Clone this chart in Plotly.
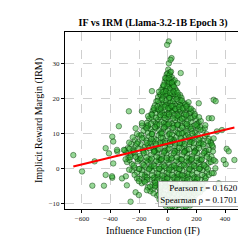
import plotly.graph_objects as go

# Influence Function (IF) and Implicit Reward Margin (IRM) values
if_vals = []
irm_vals = []

# dense blob, layer 1, row by row (top to bottom)
if_vals += [3, 17, -8, 10, 28]
irm_vals += [28.4, 27.6, 27.0, 26.6, 26.2]
if_vals += [-15, 5, 24, 40, -2, 15]
irm_vals += [25.8, 25.2, 25.6, 24.9, 24.4, 23.9]
if_vals += [-35, -12, 30, 52, 8, -25, 45]
irm_vals += [23.4, 23.0, 23.2, 22.8, 22.4, 22.1, 21.8]
if_vals += [-55, -20, 0, 22, 62, 85, -40, 38, 10]
irm_vals += [21.2, 21.5, 20.9, 21.0, 20.6, 21.1, 20.2, 20.0, 19.7]
if_vals += [-80, -60, -28, -5, 18, 48, 75, 110, 135, 95, -45, 30]
irm_vals += [19.3, 18.7, 19.0, 18.4, 18.9, 18.5, 19.2, 18.8, 18.2, 17.9, 17.6, 17.4]
if_vals += [-105, -85, -55, -20, 5, 40, 65, 90, 120, 150, 175, -35, 20, 78, 135]
irm_vals += [16.6, 15.9, 16.3, 16.8, 16.0, 16.5, 15.8, 16.4, 16.1, 15.7, 16.6, 15.2, 15.0, 14.8, 14.9]
if_vals += [-130, -100, -70, -45, -10, 10, 50, 100, 160, 195, 215, -15, 70, 120, 180]
irm_vals += [14.3, 13.6, 14.0, 13.4, 14.1, 13.2, 13.8, 13.5, 13.3, 14.2, 13.0, 12.7, 12.5, 12.9, 12.2]
if_vals += [-155, -120, -85, -60, -30, 0, 30, 55, 85, 140, 170, 210, 245, -140, 110]
irm_vals += [11.8, 11.2, 11.6, 10.9, 11.4, 10.8, 11.7, 10.6, 11.1, 11.5, 10.7, 11.3, 10.9, 10.2, 10.3]
if_vals += [-200, -170, -130, -95, -65, -35, -5, 25, 60, 95, 125, 155, 190, 225, 260, 285, -230, 40]
irm_vals += [9.4, 8.8, 9.2, 8.5, 9.5, 8.7, 9.3, 8.4, 9.0, 8.6, 9.4, 8.3, 9.1, 8.7, 9.3, 8.5, 8.1, 7.9]
if_vals += [-255, -225, -190, -160, -120, -85, -50, -20, 15, 50, 80, 115, 150, 180, 215, 250, 290, 315, -280, -100, 100]
irm_vals += [7.0, 6.4, 6.9, 6.2, 7.2, 6.5, 7.0, 6.1, 6.8, 6.3, 7.1, 6.4, 6.9, 6.0, 6.7, 6.2, 6.8, 6.1, 5.8, 5.5, 5.6]
if_vals += [-290, -260, -230, -195, -150, -115, -75, -40, -10, 25, 65, 100, 135, 170, 205, 240, 275, 305, -60, 150]
irm_vals += [4.5, 3.8, 4.3, 3.6, 4.6, 3.9, 4.4, 3.5, 4.2, 3.7, 4.5, 3.8, 4.3, 3.5, 4.4, 3.7, 4.2, 3.4, 2.9, 2.8]
if_vals += [-285, -250, -210, -175, -140, -100, -65, -30, 5, 40, 75, 110, 145, 180, 215, 250, 285, -120, 60, 230]
irm_vals += [1.8, 1.2, 2.0, 1.3, 1.9, 1.1, 1.8, 1.0, 1.7, 0.9, 1.9, 1.2, 1.8, 1.0, 1.7, 1.1, 1.6, 0.3, 0.2, 0.4]
if_vals += [-250, -215, -180, -145, -110, -75, -40, -5, 30, 65, 100, 135, 170, 205, 240, 275, -160, 90]
irm_vals += [-0.6, -1.2, -0.5, -1.3, -0.7, -1.4, -0.6, -1.2, -0.5, -1.3, -0.6, -1.4, -0.7, -1.2, -0.5, -1.1, -2.0, -2.1]
if_vals += [-200, -165, -125, -90, -55, -20, 15, 50, 85, 120, 155, 190, 225, 260, -70, 140]
irm_vals += [-3.0, -3.7, -3.2, -3.9, -3.1, -3.8, -3.2, -3.9, -3.0, -3.7, -3.1, -3.8, -3.3, -3.6, -4.6, -4.5]
if_vals += [-140, -105, -65, -30, 5, 40, 75, 110, 145, 180, 210, 240, 20, 130]
irm_vals += [-5.5, -6.1, -5.6, -6.3, -5.4, -6.2, -5.7, -6.4, -5.5, -6.1, -5.6, -6.0, -7.0, -7.1]
if_vals += [-75, -40, -5, 30, 65, 100, 135, 170, 195]
irm_vals += [-7.8, -8.3, -7.6, -8.4, -7.7, -8.2, -7.9, -8.4, -7.6]
if_vals += [-35, 0, 35, 70, 105, 140, 165, 50, 110, 15]
irm_vals += [-9.8, -10.3, -9.6, -10.4, -9.9, -10.2, -9.5, -11.1, -11.3, -11.0]

# dense blob, layer 2 (in between layer 1 rows)
if_vals += [-2, 12, 22]
irm_vals += [27.3, 26.9, 27.8]
if_vals += [-22, -8, 10, 32, 48]
irm_vals += [24.9, 25.5, 24.7, 24.2, 25.3]
if_vals += [-45, -28, -5, 15, 38, 60]
irm_vals += [22.6, 23.7, 23.5, 22.9, 23.8, 22.3]
if_vals += [-68, -48, -30, -10, 12, 30, 52, 72, 95]
irm_vals += [20.5, 21.0, 20.7, 21.3, 20.4, 21.4, 21.2, 20.9, 20.3]
if_vals += [-90, -70, -38, -15, 8, 35, 60, 88, 122, 145]
irm_vals += [18.1, 19.4, 18.3, 19.5, 17.9, 19.3, 18.0, 19.6, 18.4, 19.0]
if_vals += [-115, -95, -70, -40, -8, 15, 28, 55, 80, 105, 135, 162, 188]
irm_vals += [15.6, 16.9, 17.0, 16.1, 15.5, 17.1, 16.2, 17.0, 15.4, 16.9, 17.2, 16.3, 15.6]
if_vals += [-145, -115, -85, -58, -28, 0, 30, 62, 85, 115, 140, 175, 205, 230]
irm_vals += [13.1, 14.6, 12.9, 14.7, 13.0, 14.8, 12.8, 14.5, 13.9, 14.6, 13.8, 14.7, 12.8, 13.6]
if_vals += [-170, -138, -105, -75, -45, -15, 15, 42, 70, 98, 125, 155, 190, 225, 258]
irm_vals += [10.8, 12.1, 10.5, 12.2, 10.4, 12.0, 10.1, 12.3, 10.2, 12.1, 10.6, 12.0, 10.3, 11.9, 11.5]
if_vals += [-215, -185, -150, -112, -80, -50, -20, 10, 42, 78, 110, 140, 172, 208, 242, 272, 300]
irm_vals += [9.9, 9.6, 8.0, 9.8, 8.1, 10.0, 7.8, 9.8, 8.2, 9.9, 7.9, 9.7, 8.0, 9.6, 7.9, 9.8, 7.6]
if_vals += [-270, -240, -208, -175, -140, -102, -68, -35, 0, 32, 65, 98, 132, 165, 198, 232, 268, 302]
irm_vals += [7.4, 5.4, 7.6, 5.3, 6.6, 7.7, 5.2, 7.5, 5.3, 7.7, 5.1, 7.4, 5.2, 7.6, 5.4, 7.3, 5.0, 7.2]
if_vals += [-275, -245, -212, -172, -132, -95, -58, -25, 8, 45, 82, 118, 152, 188, 222, 258, 290]
irm_vals += [3.0, 5.0, 2.7, 4.9, 2.6, 5.0, 2.4, 4.9, 2.5, 5.1, 2.6, 4.8, 2.2, 5.0, 2.5, 4.9, 2.7]
if_vals += [-268, -232, -195, -158, -120, -82, -48, -12, 22, 58, 92, 128, 162, 198, 232, 268]
irm_vals += [2.4, 0.2, 2.5, 0.4, 2.3, 0.0, 2.4, 0.1, 2.5, 0.0, 2.6, 0.2, 2.4, 0.1, 2.3, 0.3]
if_vals += [-232, -198, -162, -128, -92, -58, -22, 12, 48, 82, 118, 152, 188, 222, 258]
irm_vals += [-1.9, -0.2, -2.4, -0.1, -2.5, -0.2, -2.3, 0.0, -2.4, -0.3, -2.2, -0.1, -2.5, -0.2, -2.3]
if_vals += [-182, -145, -108, -72, -38, -2, 32, 68, 102, 138, 172, 208, 242]
irm_vals += [-4.3, -2.6, -4.8, -2.5, -4.9, -2.7, -4.7, -2.6, -4.8, -2.5, -4.6, -2.7, -4.5]
if_vals += [-122, -85, -48, -12, 22, 58, 92, 128, 162, 195, 225]
irm_vals += [-6.6, -4.9, -6.9, -5.0, -6.7, -4.9, -7.0, -5.0, -6.8, -5.0, -6.9]
if_vals += [-58, -20, 12, 48, 85, 118, 152, 182]
irm_vals += [-9.0, -8.8, -9.1, -8.9, -9.2, -8.8, -9.0, -9.1]
if_vals += [-15, 30, 75, 125, 155]
irm_vals += [-10.8, -10.9, -10.6, -11.0, -10.7]

# dense blob, layer 3 (core)
if_vals += [-140, -110, -75, -40, -5, 30, 65, 100, 135, 170, 205]
irm_vals += [12.4, 9.9, 12.6, 10.0, 12.5, 9.7, 12.3, 10.1, 12.2, 10.0, 12.1]
if_vals += [-125, -90, -55, -20, 15, 50, 85, 120, 155, 190, 220]
irm_vals += [7.5, 5.0, 7.4, 5.1, 7.6, 4.9, 7.3, 5.0, 7.5, 4.8, 7.2]
if_vals += [-150, -115, -80, -45, -10, 25, 60, 95, 130, 165, 200]
irm_vals += [2.2, 0.6, 2.1, 0.5, 2.3, 0.4, 2.2, 0.7, 2.0, 0.5, 2.1]
if_vals += [-100, -65, -30, 5, 40, 75, 110, 145, 180]
irm_vals += [-2.8, -1.6, -2.9, -1.5, -2.7, -1.7, -2.9, -1.6, -2.8]
if_vals += [-60, -25, 10, 45, 80, 115, 150]
irm_vals += [16.9, 15.3, 17.3, 15.4, 17.0, 15.5, 17.1]
if_vals += [-40, -15, 10, 35, 60, 85]
irm_vals += [19.8, 18.1, 20.2, 18.0, 19.9, 18.2]
if_vals += [-90, -55, -20, 15, 50, 85, 120, 160]
irm_vals += [-5.2, -6.6, -5.3, -6.7, -5.1, -6.5, -5.4, -6.6]

# dense blob, layer 4 (filling the gaps)
if_vals += [-18, 6, 28, -30, 42]
irm_vals += [26.0, 25.9, 24.6, 24.0, 23.5]
if_vals += [-62, -35, -12, 14, 40, 68, 100]
irm_vals += [22.0, 21.9, 22.2, 21.7, 22.1, 21.8, 19.5]
if_vals += [-98, -72, -48, -22, 2, 26, 52, 78, 104, 130, 160]
irm_vals += [17.4, 17.8, 17.2, 17.7, 17.3, 17.9, 17.1, 17.6, 17.3, 17.8, 17.2]
if_vals += [-138, -110, -82, -52, -22, 8, 38, 68, 98, 128, 158, 188, 218]
irm_vals += [15.0, 15.4, 14.6, 15.3, 14.5, 15.5, 14.4, 15.2, 14.3, 15.4, 14.5, 15.1, 14.7]
if_vals += [-180, -148, -118, -90, -58, -25, 5, 38, 68, 100, 132, 162, 195, 228, 262]
irm_vals += [12.3, 11.5, 12.8, 11.9, 12.6, 11.8, 12.7, 11.6, 12.6, 11.7, 12.8, 11.4, 12.5, 11.1, 12.4]
if_vals += [-245, -215, -180, -148, -115, -82, -48, -15, 18, 52, 88, 118, 148, 182, 215, 248, 280, 310]
irm_vals += [8.9, 7.1, 8.6, 7.3, 8.4, 7.0, 8.8, 7.2, 8.5, 7.1, 8.7, 7.0, 8.9, 7.2, 8.3, 6.9, 7.8, 6.6]
if_vals += [-300, -268, -238, -205, -168, -132, -98, -62, -28, 8, 42, 78, 112, 148, 182, 218, 252, 288, 315]
irm_vals += [5.2, 5.6, 4.6, 5.7, 4.4, 5.8, 4.7, 5.6, 4.5, 5.7, 4.3, 5.9, 4.6, 5.5, 4.5, 5.8, 4.4, 5.3, 4.9]
if_vals += [-295, -262, -225, -188, -150, -112, -78, -42, -8, 28, 62, 98, 132, 168, 202, 238, 272, 300]
irm_vals += [2.6, 3.2, 3.3, 2.9, 3.1, 2.8, 3.3, 2.7, 3.0, 2.9, 3.2, 2.5, 3.1, 2.7, 3.0, 2.6, 3.3, 1.8]
if_vals += [-270, -238, -202, -168, -132, -95, -60, -25, 10, 45, 80, 115, 150, 185, 220, 255, 280]
irm_vals += [-0.4, 0.8, -0.2, 0.9, -0.3, 0.7, -0.1, 0.6, -0.4, 0.8, -0.2, 0.9, -0.3, 0.7, -0.1, 0.8, -0.2]
if_vals += [-215, -182, -145, -110, -75, -40, -5, 30, 65, 100, 135, 170, 205, 240, 265]
irm_vals += [-2.9, -1.8, -3.3, -2.0, -3.4, -2.1, -3.0, -1.9, -3.3, -2.0, -3.4, -1.8, -3.1, -1.9, -2.8]
if_vals += [-160, -125, -88, -52, -18, 18, 52, 88, 122, 158, 192, 228]
irm_vals += [-4.0, -5.3, -4.2, -5.5, -4.1, -5.4, -4.3, -5.6, -4.2, -5.3, -4.1, -5.2]
if_vals += [-100, -62, -28, 8, 42, 78, 112, 148, 182, 210]
irm_vals += [-7.2, -7.5, -7.3, -7.6, -7.2, -7.4, -7.3, -7.5, -7.2, -7.0]
if_vals += [-45, -8, 25, 60, 95, 130, 160]
irm_vals += [-9.3, -9.5, -9.7, -9.4, -9.6, -9.3, -9.7]

# scattered outliers
if_vals += [7, -5, 26, 7, 19, 90, 67, -111, 216, 286, 320, 334, 308, 343,
            -272, -181, -342, -660, -599, -527, -446, -511, -434, -388, -388,
            -381, -434, -411, -353, -381, -320, -260, -225, -202, -146,
            411, 465, 404, 320, 360, 286, 332, 216, 355]
irm_vals += [36.5, 35.5, 31.7, 30.2, 31.2, 27.4, 24.5, 22.2, 18.7, 14.4, 19.7, 19.3, 14.4, 10.6,
             16.4, 16.4, 12.1, 3.8, -0.9, -5.0, -5.0, 2.0, -1.9, -2.7, 9.1,
             7.7, 5.8, 4.3, 4.8, 1.4, -2.9, -9.6, -6.9, -7.7, -6.3,
             5.6, 2.4, 1.2, -1.4, -4.6, -1.9, 2.0, -4.8, -4.3]
# edge scatter around the blob
if_vals += [-225, -181, -307, -355, -390, -293, -286, -202,
            378, 320, 425, 390, 320, 332, 307, 251]
irm_vals += [11.5, 13.0, 5.3, 5.3, -2.3, -2.3, -4.9, -3.7,
             11.0, 8.6, 4.9, 2.4, 2.4, 0.0, -1.4, -5.8]

# regression line
fit_slope = 0.0100
fit_intercept = 7.1
pearson_r = 0.1620
spearman_rho = 0.1701

x_ticks = [-600, -400, -200, 0, 200, 400]
y_ticks = [-10, 0, 10, 20, 30]

x_min, x_max = min(if_vals), max(if_vals)
fit_x = [x_min, x_max]
fit_y = [fit_intercept + fit_slope * v for v in fit_x]

serif = "Liberation Serif"

fig = go.Figure()
fig.add_trace(go.Scatter(
    x=if_vals, y=irm_vals, mode="markers",
    marker=dict(size=5.5, color="rgba(45,175,45,0.5)",
                line=dict(color="rgba(0,50,0,0.75)", width=0.6)),
    showlegend=False, hoverinfo="skip"))
fig.add_trace(go.Scatter(
    x=fit_x, y=fit_y, mode="lines",
    line=dict(color="red", width=2), showlegend=False))

axis_common = dict(
    showgrid=True, gridcolor="#cfcfcf", griddash="dash", gridwidth=0.7,
    showline=True, linecolor="black", linewidth=1, mirror=True,
    ticks="outside", ticklen=3, tickcolor="black", tickwidth=0.8,
    zeroline=False, tickfont=dict(family=serif, size=7, color="#222"),
)

fig.update_layout(
    width=246, height=246,
    margin=dict(l=57, r=13, t=24, b=45),
    paper_bgcolor="white", plot_bgcolor="white",
    title=dict(text="<b>IF vs IRM (Llama-3.2-1B Epoch 3)</b>",
               x=0.59, xanchor="center", y=0.94, yanchor="middle",
               font=dict(family=serif, size=10, color="black")),
    xaxis=dict(range=[-718, 511], tickvals=x_ticks,
               ticktext=[str(v).replace("-", "\u2212") for v in x_ticks],
               title=dict(text="Influence Function (IF)", standoff=4,
                          font=dict(family=serif, size=10, color="black")),
               **axis_common),
    yaxis=dict(range=[-11.7, 39.2], tickvals=y_ticks,
               ticktext=[str(v).replace("-", "\u2212") for v in y_ticks],
               title=dict(text="Implicit Reward Margin (IRM)", standoff=4,
                          font=dict(family=serif, size=10, color="black")),
               **axis_common),
    annotations=[dict(
        xref="paper", yref="paper", x=0.993, y=0.01,
        xanchor="right", yanchor="bottom", align="right", showarrow=False,
        text=f"Pearson r = {pearson_r:.4f}<br>Spearman \u03c1 = {spearman_rho:.4f}",
        font=dict(family=serif, size=9, color="black"),
        bgcolor="rgba(255,255,255,0.9)", bordercolor="#999", borderwidth=0.8, borderpad=1.5)],
)

fig.write_html("out.html")
